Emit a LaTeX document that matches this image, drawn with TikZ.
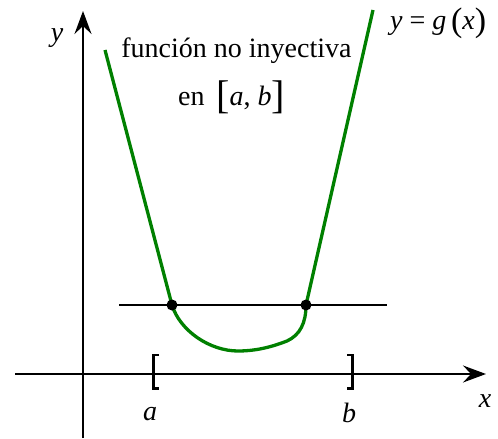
\documentclass[tikz,border=0pt]{standalone}
\usepackage{fontspec}
\setmainfont{Liberation Serif}
\usetikzlibrary{arrows.meta}
\definecolor{curvegreen}{RGB}{0,128,0}
\newcommand{\bigbr}[1]{\raisebox{-3pt}{\fontsize{40}{44}\selectfont #1}}
\newcommand{\bigpar}[1]{\raisebox{-2pt}{\fontsize{34}{38}\selectfont #1}}
\begin{document}
\begin{tikzpicture}[x=1pt,y=-1pt,
  axis/.style={line width=1.8pt,-{Stealth[length=23pt,width=17pt,inset=8pt]}},
  curve/.style={curvegreen,line width=3.3pt,line join=round},
  lbl/.style={font=\fontsize{28}{32}\selectfont,inner sep=0pt,anchor=base},
  brk/.style={line width=2.2pt},
  dotpt/.style={circle,fill=black,inner sep=0pt,minimum size=11pt}]
\useasboundingbox (0,0) rectangle (498,439);
% axes
\coordinate (xs) at (15,374);
\coordinate (xe) at (486,374);
\coordinate (ys) at (83,438);
\coordinate (ye) at (83,11);
\draw[axis] (xs) -- (xe);
\draw[axis] (ys) -- (ye);
% horizontal line
\coordinate (hl) at (119,305);
\coordinate (hr) at (387,305);
\draw[line width=1.8pt] (hl) -- (hr);
% curve
\coordinate (c0) at (105,50);
\coordinate (p1) at (172,305);
\coordinate (p2) at (306,305);
\coordinate (c3) at (373,10);
\draw[curve] (c0) -- (p1)
  .. controls (180,331) and (210,351) .. (238,351)
  .. controls (258,351) and (274,346) .. (287,341)
  .. controls (300,335) and (306,323) .. (p2) -- (c3);
\node[dotpt] (d1) at (p1) {};
\node[dotpt] (d2) at (p2) {};
% interval brackets
\draw[brk] (159,355) -- (153.5,355) -- (153.5,388.5) -- (159,388.5);
\draw[brk] (347,355) -- (352.5,355) -- (352.5,388.5) -- (347,388.5);
% labels
\node[lbl] (la) at (150,420) {\textit{a}};
\node[lbl] (lbb) at (349,422) {\textit{b}};
\node[lbl] (lx) at (485,407) {\textit{x}};
\node[lbl] (ly) at (57,41) {\textit{y}};
\node[lbl] (t1) at (236.5,57) {función no inyectiva};
\node[lbl,anchor=base west] (t2) at (178,105) {en \,\bigbr{[}\textit{a}, \textit{b}\bigbr{]}};
\node[lbl,anchor=base west] (g) at (390,29) {\textit{y} = \textit{g}\,\bigpar{(}\textit{x}\bigpar{)}};
\end{tikzpicture}
\end{document}
